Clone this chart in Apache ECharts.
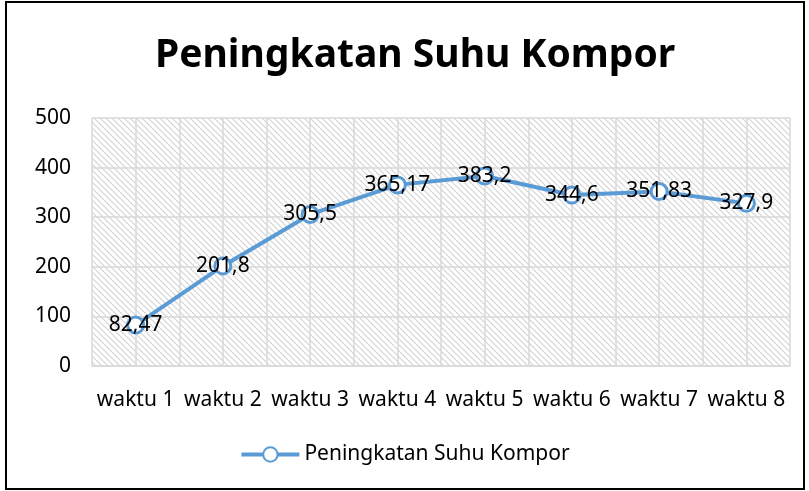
<!DOCTYPE html>
<html>
<head>
<meta charset="utf-8">
<script src="https://cdn.jsdelivr.net/npm/echarts@6/dist/echarts.min.js"></script>
<style>
  html, body { margin: 0; padding: 0; background: #fff; }
  #chart { width: 809px; height: 491px; }
</style>
</head>
<body>
<div id="chart"></div>
<script>
// data ------------------------------------------
var categories = ['waktu 1', 'waktu 2', 'waktu 3', 'waktu 4', 'waktu 5', 'waktu 6', 'waktu 7', 'waktu 8'];
var suhu = [82.47, 201.8, 305.5, 365.17, 383.2, 344.6, 351.83, 327.9];
var yTicks = [0, 100, 200, 300, 400, 500];
var seriesName = 'Peningkatan Suhu Kompor';

var FONT = '"Noto Sans", sans-serif';

// diagonal hatch pattern for the plot background
var hatch = document.createElement('canvas');
hatch.width = 6;
hatch.height = 6;
var ctx = hatch.getContext('2d');
ctx.fillStyle = '#ffffff';
ctx.fillRect(0, 0, 6, 6);
ctx.strokeStyle = '#d4d4d4';
ctx.lineWidth = 1.2;
ctx.beginPath();
ctx.moveTo(-1, -1); ctx.lineTo(7, 7);
ctx.moveTo(-4, 2); ctx.lineTo(4, 10);
ctx.moveTo(2, -4); ctx.lineTo(10, 4);
ctx.stroke();

var myChart = echarts.init(document.getElementById('chart'));

var option = {
    animation: false,
    title: {
        text: seriesName,
        left: 150,
        top: 31,
        textStyle: {
            fontFamily: FONT,
            fontSize: 39,
            fontWeight: 'bold',
            color: '#000'
        }
    },
    grid: {
        left: 92,
        right: 19,
        top: 118,
        bottom: 125,
        show: true,
        borderWidth: 0,
        backgroundColor: {image: hatch, repeat: 'repeat'}
    },
    legend: {
        bottom: 21,
        left: 'center',
        itemWidth: 58,
        itemHeight: 18,
        itemGap: 8,
        lineStyle: {width: 4},
        textStyle: {
            fontFamily: FONT,
            fontSize: 21,
            color: '#000'
        },
        data: [seriesName]
    },
    xAxis: [{
        type: 'category',
        data: categories,
        axisLine: {lineStyle: {color: '#d9d9d9', width: 1.5}},
        axisTick: {show: false},
        splitLine: {show: false},
        axisLabel: {
            fontFamily: FONT,
            fontSize: 21,
            color: '#000',
            margin: 24,
            interval: 0
        }
    }, {
        // half-category vertical gridlines like the original
        type: 'value',
        min: 0,
        max: categories.length * 2,
        interval: 1,
        position: 'top',
        axisLine: {show: false},
        axisTick: {show: false},
        axisLabel: {show: false},
        splitLine: {lineStyle: {color: '#d9d9d9', width: 1.5}}
    }],
    yAxis: {
        type: 'value',
        min: yTicks[0],
        max: yTicks[yTicks.length - 1],
        interval: 100,
        axisLine: {show: false},
        axisTick: {show: false},
        axisLabel: {
            fontFamily: FONT,
            fontSize: 21,
            color: '#000',
            margin: 21
        },
        splitLine: {lineStyle: {color: '#d9d9d9', width: 1.5}}
    },
    series: [{
        name: seriesName,
        type: 'line',
        data: suhu,
        symbol: 'circle',
        symbolSize: 16,
        lineStyle: {color: '#5b9bd5', width: 4},
        itemStyle: {color: '#ffffff', borderColor: '#5b9bd5', borderWidth: 3},
        label: {
            show: true,
            position: 'inside',
            fontFamily: FONT,
            fontSize: 21,
            color: '#000',
            formatter: function (p) {
                return String(p.value).replace('.', ',');
            }
        },
        z: 5
    }],
    graphic: [{
        type: 'rect',
        shape: {x: 6, y: 2, width: 798, height: 487},
        style: {fill: 'none', stroke: '#000', lineWidth: 2},
        silent: true
    }]
};

myChart.setOption(option);
</script>
</body>
</html>
